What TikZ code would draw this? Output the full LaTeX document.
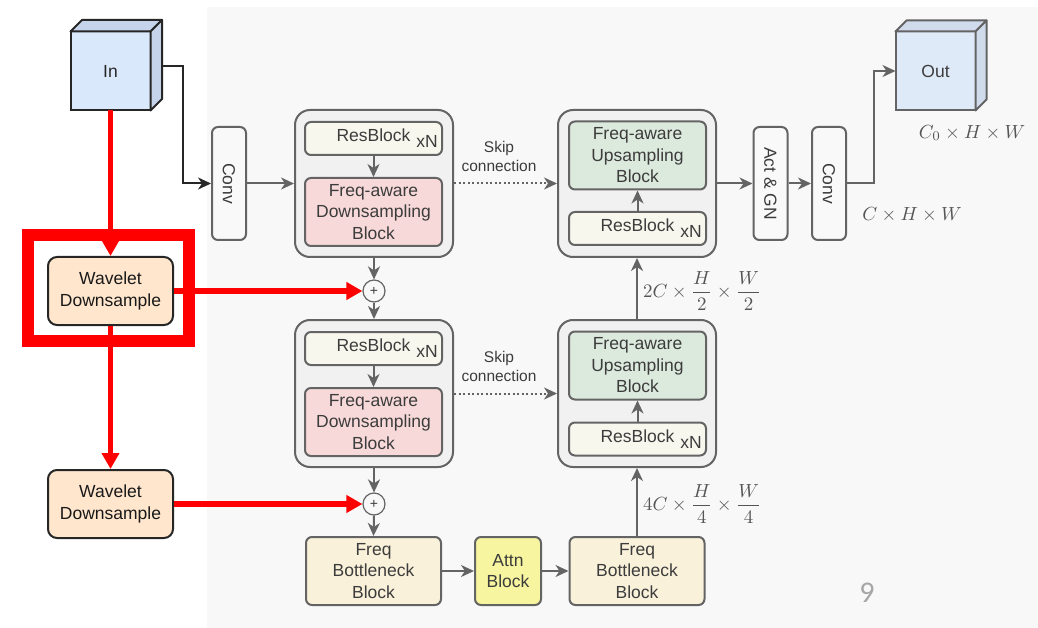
\documentclass[tikz,border=0pt]{standalone}
\usepackage{graphicx}
\usepackage[no-math]{fontspec}
\setmainfont{Liberation Sans}
\newfontfamily\pagenumfont{Carlito}
\usetikzlibrary{arrows.meta,calc}

\definecolor{panelbg}{HTML}{F8F8F8}
\definecolor{linegray}{HTML}{646464}
\definecolor{textgray}{HTML}{3C3C3C}
\definecolor{mathgray}{HTML}{555555}
\definecolor{groupfill}{HTML}{F1F1F1}
\definecolor{resfill}{HTML}{F8F7EE}
\definecolor{downfill}{HTML}{F8D9D9}
\definecolor{upfill}{HTML}{DCE9DD}
\definecolor{bottfill}{HTML}{FAF1DA}
\definecolor{attnfill}{HTML}{F7F59F}
\definecolor{cubefront}{HTML}{DAE8FC}
\definecolor{cubeside}{HTML}{C5D4EA}
\definecolor{outfront}{HTML}{DFEAF8}
\definecolor{outside}{HTML}{D0DBEC}
\definecolor{wavefill}{HTML}{FFE6CC}
\definecolor{convfill}{HTML}{F9F9F9}
\definecolor{hotred}{HTML}{FF0000}

\newcommand{\boxfont}{\fontsize{17.5}{21.5}\selectfont}
\newcommand{\skipfont}{\fontsize{15.5}{19}\selectfont}
\newcommand{\bigmath}[1]{\scalebox{1.9}{#1}}
\newcommand{\resname}{ResBlock\rlap{\hspace{6pt}\raisebox{-6pt}{xN}}}

\begin{document}
\begin{tikzpicture}[x=1pt,y=-1pt,
  boxbase/.style={draw=linegray, line width=2pt, rounded corners=6pt,
    inner sep=0pt, text=textgray, align=center, font=\boxfont},
  group/.style={boxbase, fill=groupfill, rounded corners=15pt,
    minimum width=158pt, minimum height=147pt},
  resblk/.style={boxbase, fill=resfill, minimum width=137pt, minimum height=33pt},
  downblk/.style={boxbase, fill=downfill, minimum width=137pt, minimum height=68pt},
  upblk/.style={boxbase, fill=upfill, minimum width=137pt, minimum height=68pt},
  bottblk/.style={boxbase, fill=bottfill, minimum width=135pt, minimum height=68pt},
  attnblk/.style={boxbase, fill=attnfill, minimum width=66pt, minimum height=68pt},
  vbar/.style={boxbase, fill=convfill, minimum width=34pt, minimum height=113pt},
  wave/.style={draw=black!85, line width=2pt, rounded corners=9pt, fill=wavefill,
    inner sep=0pt, text=black!90, align=center, font=\boxfont,
    minimum width=125pt, minimum height=68pt},
  cubeface/.style={draw, outer sep=0pt, inner sep=0pt, minimum width=80pt,
    minimum height=79pt, font=\boxfont},
  plus/.style={circle, draw=linegray, line width=1.2pt, fill=panelbg,
    minimum size=22pt, inner sep=0pt, text=textgray,
    font=\fontsize{14}{14}\selectfont},
  arr/.style={draw=linegray, line width=2pt,
    -{Stealth[length=13pt,width=12pt,inset=4pt]}},
  blackarr/.style={draw=black!85, line width=2pt,
    -{Stealth[length=13pt,width=12pt,inset=4pt]}},
  skiparr/.style={arr, dash pattern=on 2pt off 2.5pt},
  redarr/.style={draw=hotred, line width=5.5pt,
    -{Triangle[length=16pt,width=17pt]}},
  mathlbl/.style={text=mathgray, inner sep=0pt},
  skiplbl/.style={text=textgray, font=\skipfont, align=center, inner sep=0pt}
]
\useasboundingbox (0,0) rectangle (1038,628);

% light panel behind the network
\fill[panelbg] (207,7) rectangle (1038,628);

% input volume
\node[cubeface, draw=black!85, line width=2pt, fill=cubefront, text=black!85]
  (infront) at (110.5,71) {In};
\filldraw[draw=black!85, line width=2pt, fill=cubeside, line join=round]
  (infront.north west) -- ++(11.5,-11.5) -- ++(80,0) -- (infront.north east) -- cycle;
\filldraw[draw=black!85, line width=2pt, fill=cubeside, line join=round]
  (infront.north east) -- ++(11.5,-11.5) -- ++(0,79) -- (infront.south east) -- cycle;
\coordinate (inport) at ($(infront.east)+(11.5,-5)$);

% output volume
\node[cubeface, draw=linegray, line width=2pt, fill=outfront, text=textgray]
  (outfront) at (935.5,71) {Out};
\filldraw[draw=linegray, line width=2pt, fill=outside, line join=round]
  (outfront.north west) -- ++(11,-11) -- ++(80,0) -- (outfront.north east) -- cycle;
\filldraw[draw=linegray, line width=2pt, fill=outside, line join=round]
  (outfront.north east) -- ++(11,-11) -- ++(0,79) -- (outfront.south east) -- cycle;

% stem and head
\node[vbar] (conv1) at (229,183.5) {\rotatebox{-90}{Conv}};
\node[vbar] (actgn) at (770.5,183.5) {\rotatebox{-90}{Act \& GN}};
\node[vbar] (conv2) at (829,183.5) {\rotatebox{-90}{Conv}};

% encoder level 1
\node[group] (enc1) at (374,183.5) {};
\node[resblk] (res1) at (373.5,138.5) {\resname};
\node[downblk] (down1) at (373.5,212) {Freq-aware\\Downsampling\\Block};
\node[plus] (plus1) at (374,291) {+};

% encoder level 2
\node[group] (enc2) at (374,393.5) {};
\node[resblk] (res2) at (373.5,348.5) {\resname};
\node[downblk] (down2) at (373.5,422) {Freq-aware\\Downsampling\\Block};
\node[plus] (plus2) at (374,504) {+};

% bottleneck
\node[bottblk] (bott1) at (373.5,571) {Freq\\Bottleneck\\Block};
\node[attnblk] (attn) at (508,571) {Attn\\Block};
\node[bottblk] (bott2) at (637,571) {Freq\\Bottleneck\\Block};

% decoder level 2
\node[group] (dec2) at (637,393.5) {};
\node[upblk] (up2) at (637.5,365.5) {Freq-aware\\Upsampling\\Block};
\node[resblk] (resd2) at (637.5,439) {\resname};

% decoder level 1
\node[group] (dec1) at (637,183.5) {};
\node[upblk] (up1) at (637.5,155.5) {Freq-aware\\Upsampling\\Block};
\node[resblk] (resd1) at (637.5,228.5) {\resname};

% wavelet branch
\node[wave] (wav1) at (110.5,291) {Wavelet\\Downsample};
\node[wave] (wav2) at (110.5,504) {Wavelet\\Downsample};
\draw[hotred, line width=12pt] (28.2,235.5) rectangle (188.8,341);

% labels
\node[skiplbl] (skip1) at (499,156) {Skip\\connection};
\node[skiplbl] (skip2) at (499,366) {Skip\\connection};
\node[mathlbl, anchor=west] (lbl2c) at (643,291)
  {\bigmath{$\displaystyle 2C\times\frac{H}{2}\times\frac{W}{2}$}};
\node[mathlbl, anchor=west] (lbl4c) at (643,504)
  {\bigmath{$\displaystyle 4C\times\frac{H}{4}\times\frac{W}{4}$}};
\node[mathlbl] (lblchw) at (912,215) {\bigmath{$C\times H\times W$}};
\node[mathlbl] (lblout) at (972,133) {\bigmath{$C_0\times H\times W$}};
\node[text=black!35, font=\pagenumfont\fontsize{30}{30}\selectfont, inner sep=0pt]
  (pagenum) at (867,593) {9};

% main path
\draw[blackarr] (inport) -- ++(21,0) |- (conv1.west);
\draw[arr] (conv1.east) -- (enc1.west);
\draw[arr] (res1.south) -- (down1.north);
\draw[arr] (enc1.south) -- (plus1.north);
\draw[arr] (plus1.south) -- (enc2.north);
\draw[arr] (res2.south) -- (down2.north);
\draw[arr] (enc2.south) -- (plus2.north);
\draw[arr] (plus2.south) -- (bott1.north);
\draw[arr] (bott1.east) -- (attn.west);
\draw[arr] (attn.east) -- (bott2.west);
\draw[arr] (bott2.north) -- (dec2.south);
\draw[arr] (resd2.north) -- (up2.south);
\draw[arr] (dec2.north) -- (dec1.south);
\draw[arr] (resd1.north) -- (up1.south);
\draw[arr] (dec1.east) -- (actgn.west);
\draw[arr] (actgn.east) -- (conv2.west);
\draw[arr] (conv2.east) -- ++(27,0) |- (outfront.west);
\draw[skiparr] (enc1.east) -- (dec1.west);
\draw[skiparr] (enc2.east) -- (dec2.west);

% wavelet connections
\draw[redarr] (infront.south) -- (wav1.north);
\draw[redarr] (wav1.south) -- (wav2.north);
\draw[redarr] (wav1.east) -- (plus1.west);
\draw[redarr] (wav2.east) -- (plus2.west);
\end{tikzpicture}
\end{document}
